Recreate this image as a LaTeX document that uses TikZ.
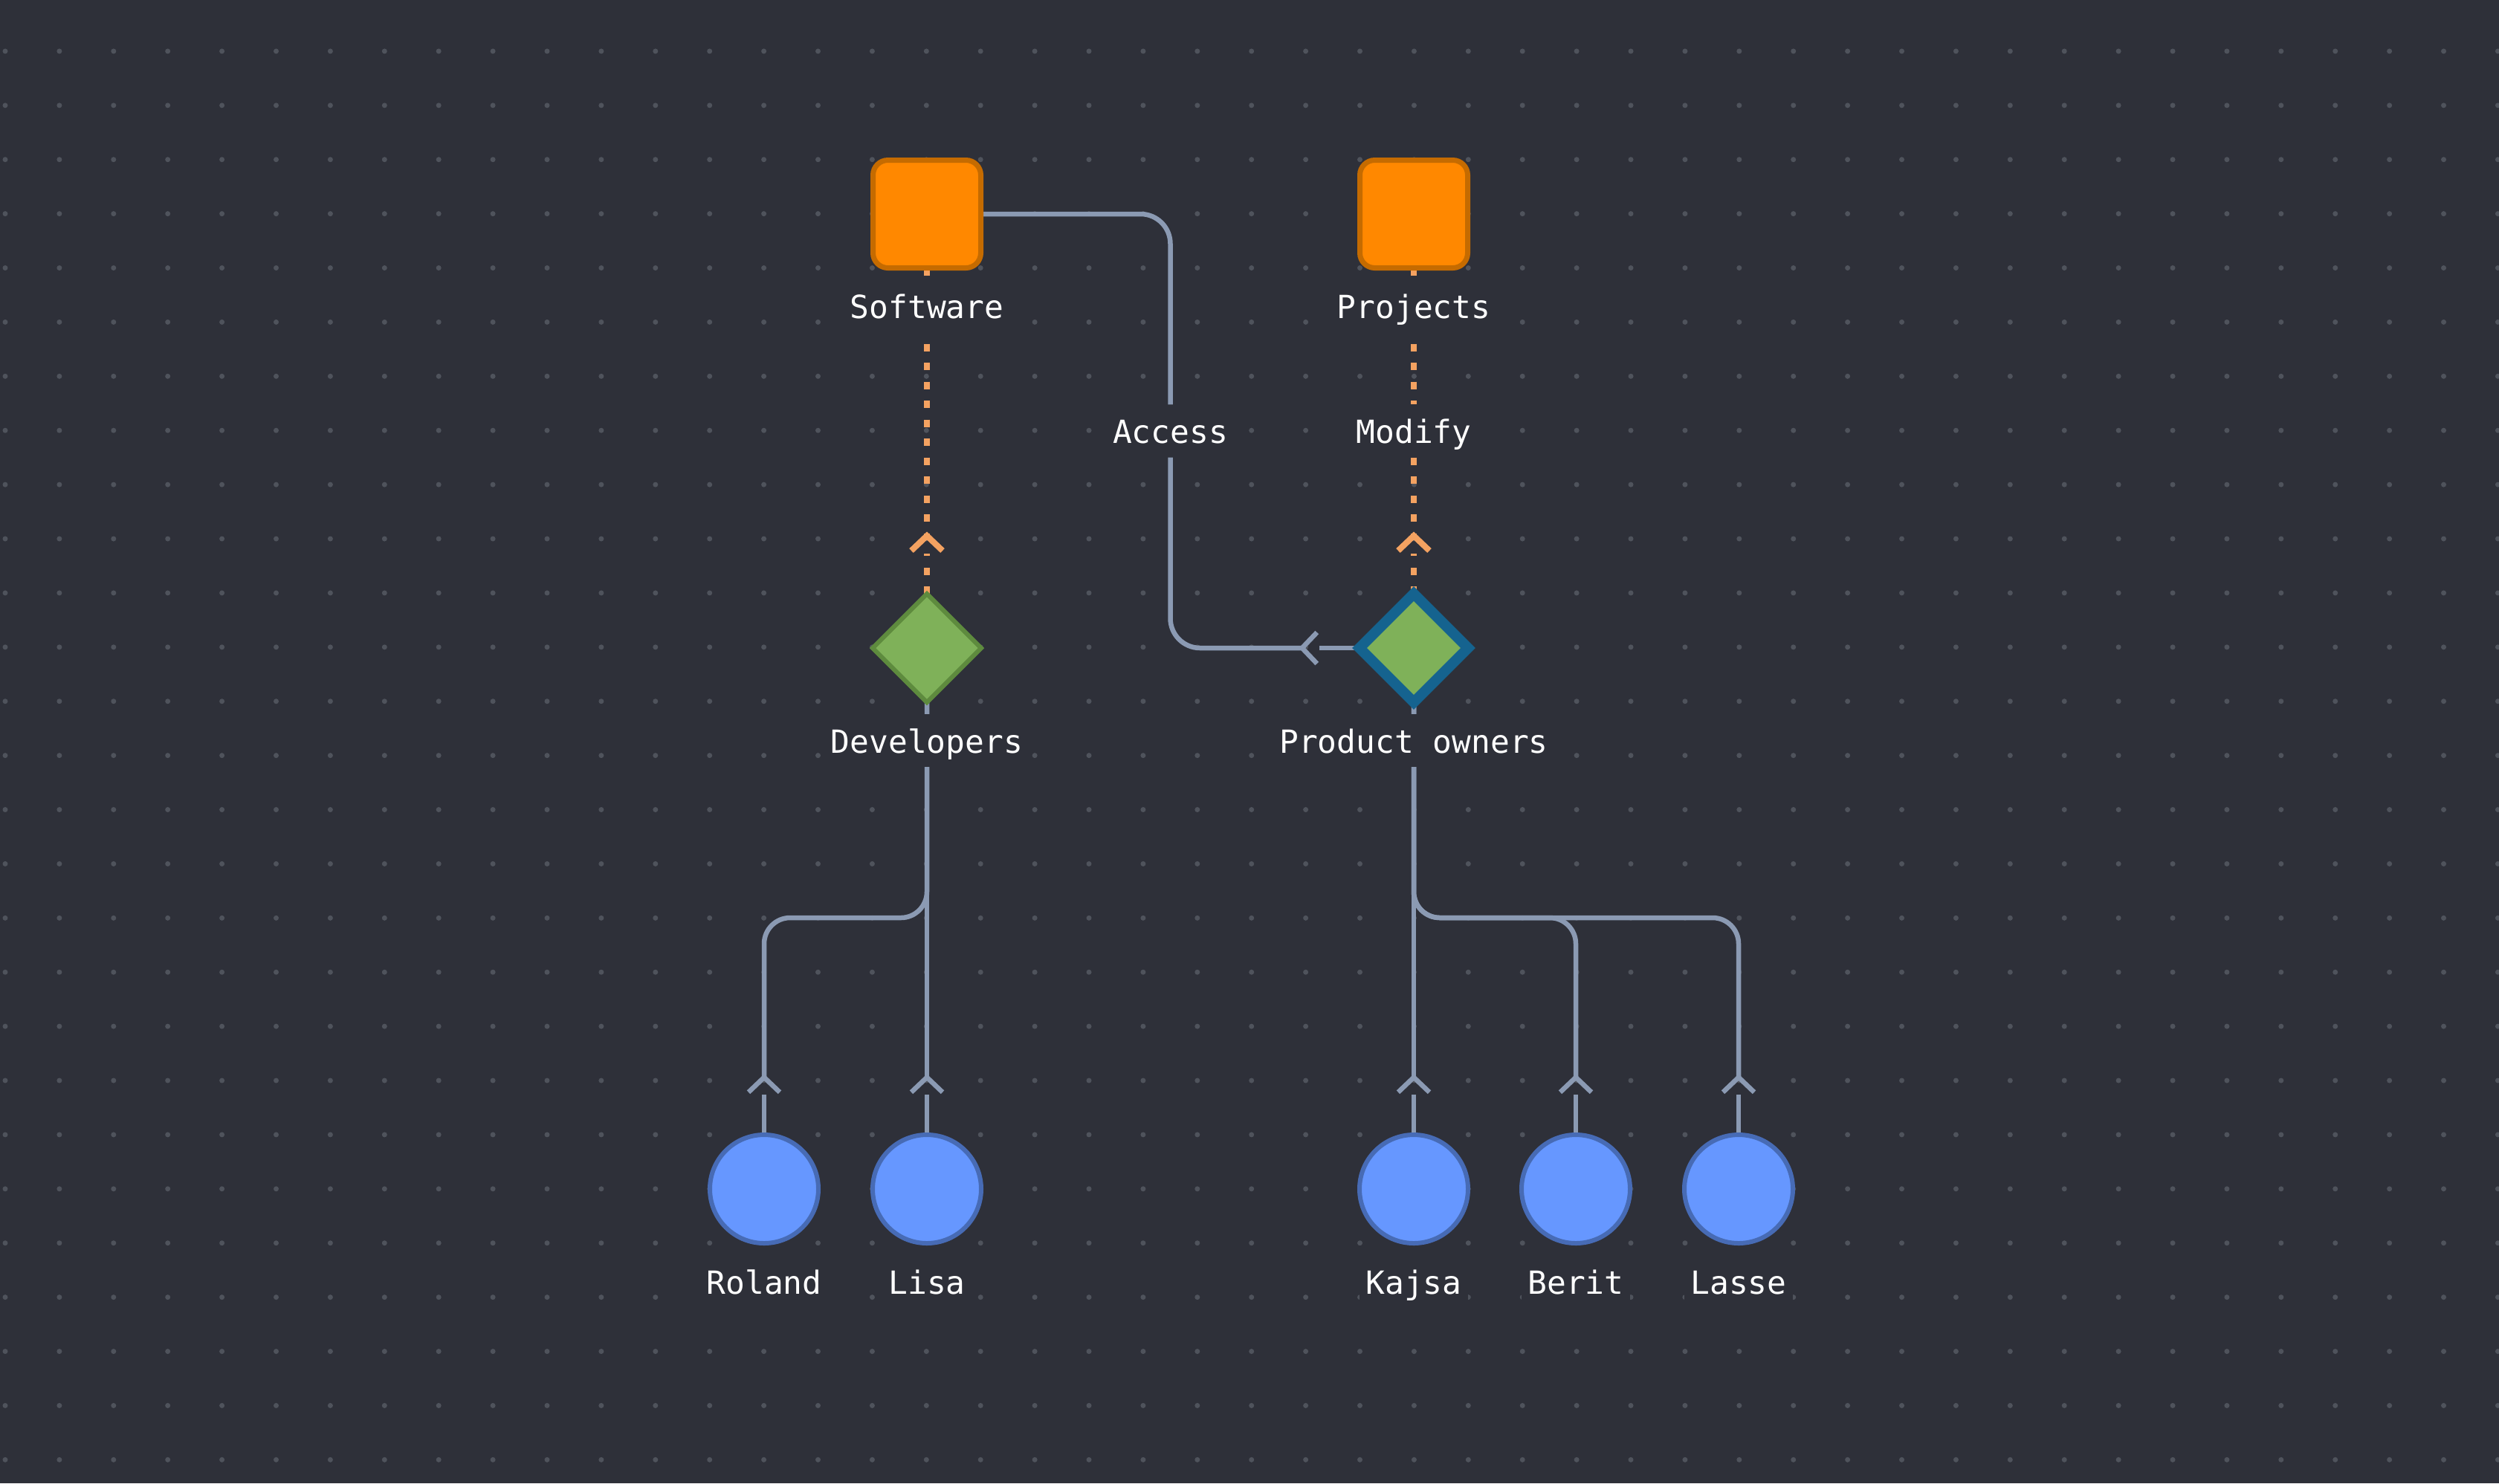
\documentclass[tikz,border=0pt]{standalone}
\usepackage{fontspec}
\newfontfamily\tagfont{DejaVu Sans Mono}
\usepackage{tikz}
\usetikzlibrary{arrows.meta,positioning,calc,shapes.geometric}
\definecolor{Canvas}{HTML}{2E3039}
\definecolor{GridDot}{HTML}{4F535C}
\definecolor{EdgeGrey}{HTML}{8B9AB3}
\definecolor{EdgeOrange}{HTML}{F4A261}
\definecolor{BoxFill}{HTML}{FF8800}
\definecolor{BoxStroke}{HTML}{C56B00}
\definecolor{RoleFill}{HTML}{7FB159}
\definecolor{RoleStroke}{HTML}{5E8B3E}
\definecolor{OwnerStroke}{HTML}{15638F}
\definecolor{PersonFill}{HTML}{6697FF}
\definecolor{PersonStroke}{HTML}{476BB5}
\pgfdeclarelayer{grid}
\pgfdeclarelayer{edges}
\pgfsetlayers{grid,edges,main}

\begin{document}
\begin{tikzpicture}[
  every node/.style={font=\tagfont\fontsize{12.2pt}{14pt}\selectfont, text=white, outer sep=0pt},
  thing/.style={draw=BoxStroke, fill=BoxFill, line width=0.07cm, rounded corners=0.2cm, minimum size=1.45cm, inner sep=0pt},
  role/.style={diamond, draw=RoleStroke, fill=RoleFill, line width=0.06cm, minimum width=1.46cm, minimum height=1.46cm, inner sep=0pt},
  person/.style={circle, draw=PersonStroke, fill=PersonFill, line width=0.06cm, minimum size=1.46cm, inner sep=0pt},
  tag/.style={fill=Canvas, text height=0.95em, text depth=0pt, inner xsep=0.08cm, inner ysep=0.19cm},
  link/.style={EdgeGrey, line width=0.065cm, rounded corners=0.35cm},
  dotlink/.style={EdgeOrange, line width=0.08cm, dash pattern=on 0.1cm off 0.155cm},
  many/.style={-{Straight Barb[reversed, length=0.2cm, width=0.42cm]}, shorten >=0.54cm},
]
  \useasboundingbox (0,0) rectangle (33.62,-19.96);

  % things
  \node[thing] (sw) at (12.47,-2.88) {};
  \node[thing, right=5.1cm of sw] (pj) {};
  \node[tag, below=0.16cm of sw] (swl) {Software};
  \node[tag, below=0.16cm of pj] (pjl) {Projects};

  % roles
  \node[role, below=4.385cm of sw] (dev) {};
  \node[role, draw=OwnerStroke, line width=0.14cm, below=4.385cm of pj] (po) {};
  \node[tag, below=0.16cm of dev] (devl) {Developers};
  \node[tag, below=0.16cm of po] (pol) {Product owners};

  % people
  \node[person, below=5.82cm of dev] (lisa) {};
  \node[person, left=0.73cm of lisa] (roland) {};
  \node[person, below=5.82cm of po] (kajsa) {};
  \node[person, right=0.72cm of kajsa] (berit) {};
  \node[person, right=0.73cm of berit] (lasse) {};
  \node[tag, below=0.16cm of roland] (rolandl) {Roland};
  \node[tag, below=0.16cm of lisa] (lisal) {Lisa};
  \node[tag, below=0.16cm of kajsa] (kajsal) {Kajsa};
  \node[tag, below=0.16cm of berit] (beritl) {Berit};
  \node[tag, below=0.16cm of lasse] (lassel) {Lasse};

  \coordinate (acc) at ($(sw)!0.5!(pj)$);
  \coordinate (dsplit) at ($(lisa.north)+(0,2.92)$);
  \coordinate (psplit) at ($(kajsa.north)+(0,2.92)$);

  \begin{pgfonlayer}{edges}
    \draw[dotlink, many] (sw.south) -- (dev.north);
    \draw[dotlink] (dev.north) -- ++(0,0.54);
    \draw[dotlink, many] (pj.south) -- node[tag] {Modify} (po.north);
    \draw[dotlink] (po.north) -- ++(0,0.54);

    \draw[link, rounded corners=0.4cm, many] (sw.east) -| node[tag, pos=0.75] {Access} (acc |- po.west) -- (po.west);
    \draw[link] (po.west) -- ++(-0.54,0);

    \draw[link, many] (dev.south) -- (lisa.north);
    \draw[link, many] (dev.south) |- (roland.north |- dsplit) -- (roland.north);
    \draw[link, many] (po.south) -- (kajsa.north);
    \draw[link, many] (po.south) |- (berit.north |- psplit) -- (berit.north);
    \draw[link, many] (po.south) |- (lasse.north |- psplit) -- (lasse.north);
    \foreach \p in {roland,lisa,kajsa,berit,lasse}
      \draw[link] (\p.north) -- ++(0,0.54);
  \end{pgfonlayer}

  \begin{pgfonlayer}{grid}
    \fill[Canvas] (0,0) rectangle (33.62,-19.96);
    \foreach \i in {0,...,46}
      \foreach \j in {0,...,27}
        \fill[GridDot] ({0.07+0.729*\i},{0.04-0.729*\j}) circle (0.035);
  \end{pgfonlayer}
\end{tikzpicture}
\end{document}
